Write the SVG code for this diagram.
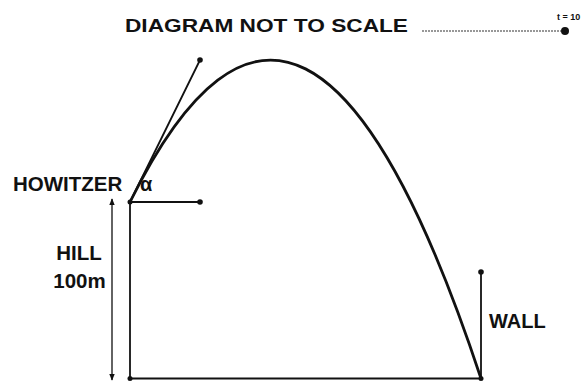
<svg xmlns="http://www.w3.org/2000/svg" width="584" height="381" viewBox="0 0 584 381">
<style>
  .lbl { font-family: "Liberation Sans", Arial, sans-serif; font-weight: bold; fill: #111; }
  .ln { stroke: #111; stroke-width: 1.8; fill: none; stroke-linecap: round; }
  .thin { stroke: #222; stroke-width: 1.4; fill: none; }
  .dot { fill: #111; }
</style>
<defs>
  <marker id="ah" viewBox="0 0 10 10" refX="9" refY="5" markerWidth="7" markerHeight="7" orient="auto-start-reverse" markerUnits="userSpaceOnUse">
    <path d="M0,1 L10,5 L0,9 z" fill="#111"/>
  </marker>
</defs>
<rect width="584" height="381" fill="#fff"/>

<g id="title">
  <text class="lbl" x="125" y="32" font-size="19" textLength="283" lengthAdjust="spacingAndGlyphs">DIAGRAM NOT TO SCALE</text>
</g>

<g id="timer">
  <line x1="422" y1="31" x2="561" y2="31" stroke="#777" stroke-width="1.3" stroke-dasharray="2 1"/>
  <circle class="dot" cx="565" cy="31" r="4"/>
  <text class="lbl" x="557" y="20" font-size="9">t = 10</text>
</g>

<g id="connectors">
  <line class="ln" x1="130" y1="202" x2="130" y2="378.5"/>
  <line class="ln" x1="130" y1="378.5" x2="481" y2="378.5"/>
  <line class="ln" x1="130" y1="202" x2="200" y2="202"/>
  <line class="ln" x1="130" y1="202" x2="200" y2="60"/>
  <line class="ln" x1="481" y1="272" x2="481" y2="378.5"/>
  <line class="thin" x1="112" y1="199" x2="112" y2="380" marker-start="url(#ah)" marker-end="url(#ah)"/>
  <path d="M130,202 Q305.5,-152.5 481,378.5" fill="none" stroke="#111" stroke-width="2.8"/>
</g>

<g id="dots">
  <circle class="dot" cx="130" cy="202" r="2.5"/>
  <circle class="dot" cx="200" cy="202" r="2.8"/>
  <circle class="dot" cx="200" cy="60" r="2.8"/>
  <circle class="dot" cx="130" cy="378.5" r="2.5"/>
  <circle class="dot" cx="481" cy="272" r="2.8"/>
  <circle class="dot" cx="481" cy="378.5" r="2.5"/>
</g>

<g id="howitzer">
  <text class="lbl" x="13" y="191" font-size="20.5">HOWITZER</text>
  <text class="lbl" x="140" y="191" font-size="20" font-weight="normal">α</text>
</g>

<g id="hill">
  <text class="lbl" x="79" y="260" font-size="20.5" text-anchor="middle">HILL</text>
  <text class="lbl" x="79.5" y="288" font-size="20.5" text-anchor="middle">100m</text>
</g>

<g id="wall">
  <text class="lbl" x="489" y="328" font-size="20">WALL</text>
</g>
</svg>
